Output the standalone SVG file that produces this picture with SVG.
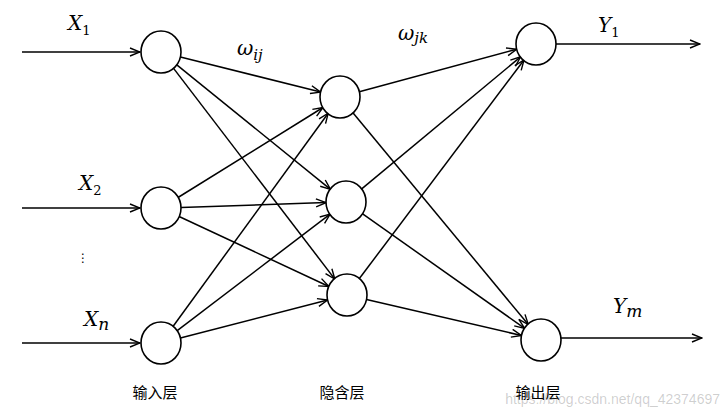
<svg xmlns="http://www.w3.org/2000/svg" width="723" height="416" viewBox="0 0 723 416">
<style>
.n{fill:#fff;stroke:#000;stroke-width:1.6}
.c line{stroke:#000;stroke-width:1.5;marker-end:url(#a)}
.m{font-family:"DejaVu Serif","Liberation Serif",serif;font-style:italic;font-size:20px}
.s{font-family:"DejaVu Serif","Liberation Serif",serif;font-size:13px}
.cn{font-family:"Noto Sans CJK SC",sans-serif;font-size:15px}
</style>
<defs><marker id="a" viewBox="0 0 12 10" refX="11" refY="5" markerWidth="12" markerHeight="10" markerUnits="userSpaceOnUse" orient="auto"><polyline points="1,1 11,5 1,9" fill="none" stroke="#000" stroke-width="1.4"/></marker></defs>
<rect width="723" height="416" fill="#fff"/>
<g class="c" id="connectors">
<line x1="22" y1="52" x2="140" y2="52"/>
<line x1="22" y1="208" x2="140" y2="208"/>
<line x1="22" y1="343" x2="140" y2="343"/>
<line x1="556" y1="44" x2="700" y2="44"/>
<line x1="561" y1="338" x2="702" y2="338"/>
<line x1="180.4" y1="56.9" x2="320.6" y2="92.1"/>
<line x1="176.5" y1="64.6" x2="330.5" y2="189.4"/>
<line x1="173.2" y1="67.9" x2="334.8" y2="279.1"/>
<line x1="178" y1="197.5" x2="323" y2="107.5"/>
<line x1="181" y1="207.4" x2="326" y2="202.6"/>
<line x1="179.1" y1="216.5" x2="328.9" y2="286.5"/>
<line x1="172.8" y1="326.8" x2="328.2" y2="113.2"/>
<line x1="176.9" y1="330.9" x2="330.1" y2="214.1"/>
<line x1="180.4" y1="338" x2="327.6" y2="300"/>
<line x1="359.3" y1="91.8" x2="516.7" y2="49.2"/>
<line x1="352.7" y1="112.4" x2="528.3" y2="324.6"/>
<line x1="361.4" y1="189.2" x2="520.6" y2="56.8"/>
<line x1="362.3" y1="213.6" x2="524.7" y2="328.4"/>
<line x1="359" y1="279" x2="524" y2="60"/>
<line x1="366.5" y1="299.5" x2="521.5" y2="335.5"/>
</g>
<g id="i1"><ellipse class="n" cx="161" cy="52" rx="20" ry="21"/></g>
<g id="i2"><ellipse class="n" cx="161" cy="208" rx="20" ry="21"/></g>
<g id="i3"><ellipse class="n" cx="161" cy="343" rx="20" ry="21"/></g>
<g id="h1"><ellipse class="n" cx="340" cy="97" rx="20" ry="21"/></g>
<g id="h2"><ellipse class="n" cx="346" cy="202" rx="20" ry="21"/></g>
<g id="h3"><ellipse class="n" cx="347" cy="295" rx="20" ry="21"/></g>
<g id="o1"><ellipse class="n" cx="536" cy="44" rx="20" ry="21"/></g>
<g id="o2"><ellipse class="n" cx="541" cy="340" rx="20" ry="21"/></g>
<g id="labels">
<text class="m" x="68" y="30">X<tspan class="s" dy="5" font-style="normal">1</tspan></text>
<text class="m" x="79" y="190">X<tspan class="s" dy="5" font-style="normal">2</tspan></text>
<text x="77" y="262" font-family="DejaVu Sans,sans-serif" font-size="12">⋮</text>
<text class="m" x="84" y="326">X<tspan dy="4" font-size="17">n</tspan></text>
<text class="m" x="237" y="55">ω<tspan dy="5" font-size="15">ij</tspan></text>
<text class="m" x="398" y="40">ω<tspan dy="3" font-size="15">jk</tspan></text>
<text class="m" x="598" y="32">Y<tspan class="s" dy="5" font-style="normal">1</tspan></text>
<text class="m" x="613" y="313">Y<tspan dy="4" font-size="17">m</tspan></text>
<text class="cn" x="155" y="398" text-anchor="middle">输入层</text>
<text class="cn" x="342" y="398" text-anchor="middle">隐含层</text>
<text class="cn" x="538" y="398" text-anchor="middle">输出层</text>
<text x="720" y="404" text-anchor="end" font-family="Liberation Sans,sans-serif" font-size="14" fill="#000" fill-opacity="0.2">https://blog.csdn.net/qq_42374697</text>
</g>
</svg>
